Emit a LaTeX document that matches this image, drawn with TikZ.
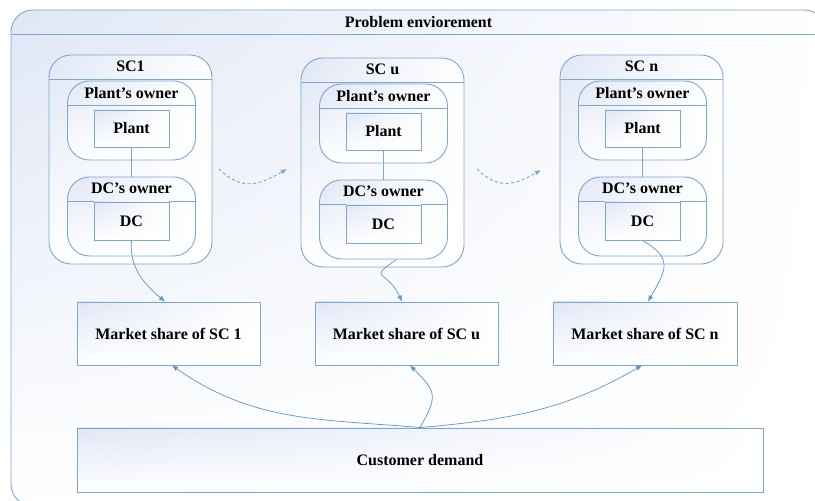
\documentclass[tikz,border=0pt]{standalone}
\usepackage{fontspec}
\setmainfont{Liberation Serif}
\usetikzlibrary{arrows.meta,shadings}
\definecolor{boxline}{RGB}{126,166,214}
\definecolor{arrowline}{RGB}{91,150,210}
\definecolor{shadetop}{RGB}{224,231,245}
\begin{document}
\begin{tikzpicture}
	[x=1pt, y=1pt,
	box/.style={draw=boxline, line width=0.9pt, shade, upper left=shadetop, upper right=white, lower left=white, lower right=white, inner sep=0pt},
	grp/.style={box, rounded corners=22pt, path picture={\draw[boxline, line width=0.9pt] ([yshift=-#1]path picture bounding box.north west) -- ([yshift=-#1]path picture bounding box.north east);}},
	ttl/.style={font=\fontsize{16}{18}\selectfont\bfseries},
	link/.style={draw=arrowline, line width=0.7pt, -{Latex[length=6pt,width=5pt]}},
	dots/.style={link, draw=arrowline!85, line width=0.9pt, dash pattern=on 3pt off 2.5pt}]

	\useasboundingbox (0,0) rectangle (815,501);

	\node[grp=24pt, minimum width=815pt, minimum height=496pt] (env) at (418.5,243) {};
	\node[ttl] (envt) at ([yshift=-12pt]env.north) {Problem enviorement};

	% the three supply chains
	\foreach \s/\c/\d/\t in {1/130.5/0/SC1, u/382.5/3/SC u, n/641.5/0/SC n}
	{
		\node[grp=24pt, minimum width=163pt, minimum height=209pt] (sc\s) at (\c, 341.5-\d) {};
		\node[ttl] (sct\s) at ([yshift=-12pt]sc\s.north) {\t};

		\node[grp=24pt, minimum width=128pt, minimum height=79pt] (po\s) at (\c+1, 380.5-\d) {};
		\node[ttl] (pot\s) at ([yshift=-12pt]po\s.north) {Plant's owner};
		\node[box, ttl, minimum width=75pt, minimum height=37pt] (pl\s) at (\c+1, 372.5-\d) {Plant};

		\node[grp=24pt, minimum width=128pt, minimum height=79pt] (do\s) at (\c+1, 284.5-\d) {};
		\node[ttl] (dot\s) at ([yshift=-12pt]do\s.north) {DC's owner};
		\node[box, ttl, minimum width=75pt, minimum height=38pt] (dc\s) at (\c+1, 280-\d) {DC};

		\draw[boxline, line width=0.9pt] (pl\s.south) -- (do\s.north);
	}

	% dashed hints between the chains
	\coordinate (ga) at (219,332);
	\coordinate (gb) at (287,332);
	\coordinate (gc) at (477,332);
	\coordinate (gd) at (541,331);
	\draw[dots] (ga) to[out=-45, in=210, looseness=1.2] (gb);
	\draw[dots] (gc) to[out=-45, in=210, looseness=1.2] (gd);

	\node[box, ttl, minimum width=183pt, minimum height=63pt] (ms1) at (168.5,167.5) {Market share of SC 1};
	\node[box, ttl, minimum width=183pt, minimum height=63pt] (msu) at (406.5,167.5) {Market share of SC u};
	\node[box, ttl, minimum width=184pt, minimum height=63pt] (msn) at (645,167.5) {Market share of SC n};

	\node[box, ttl, minimum width=686pt, minimum height=64pt] (cd) at (420,41) {Customer demand};

	\draw[link] (dc1.south) to[out=-95, in=140] ([xshift=-3.5pt]ms1.north);
	\draw[link] ([xshift=13pt]dou.south) to[out=-145, in=115, looseness=2.2] ([xshift=-4.5pt]msu.north);
	\draw[link] (dcn.south) to[out=-30, in=60, looseness=1.5] ([xshift=3pt]msn.north);

	\draw[link] (cd.north) to[out=175, in=-35] ([xshift=3.5pt]ms1.south);
	\draw[link] (cd.north) to[out=60, in=-45, looseness=1.5] ([xshift=3.5pt]msu.south);
	\draw[link] (cd.north) to[out=5, in=-150] ([xshift=-3pt]msn.south);

\end{tikzpicture}
\end{document}
